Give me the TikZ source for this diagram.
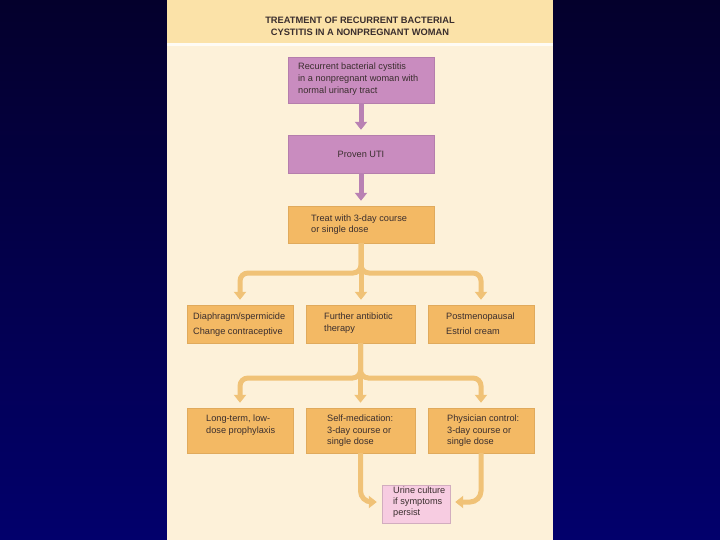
\documentclass[tikz,border=0pt]{standalone}
\usepackage{fontspec}
\setmainfont{Liberation Sans}
\usetikzlibrary{arrows.meta,calc}
\definecolor{bgtop}{HTML}{04002C}
\definecolor{bgbot}{HTML}{02006C}
\definecolor{panel}{HTML}{FDF1D9}
\definecolor{band}{HTML}{FBE2A8}
\definecolor{purp}{HTML}{C98CBF}
\definecolor{purpline}{HTML}{B981B3}
\definecolor{orng}{HTML}{F3B964}
\definecolor{orngline}{HTML}{F0C277}
\definecolor{pinkbox}{HTML}{F7CCE1}
\definecolor{txt}{HTML}{3A2E2E}
\tikzset{
  box/.style={inner sep=0pt, minimum width=#1},
  pbox/.style={box=146pt, fill=purp, draw=purp!90!black, line width=0.4pt},
  obox/.style={fill=orng, draw=orng!92!black, line width=0.4pt, inner sep=0pt},
  tx/.style={font=\fontsize{9.2}{11.8}\selectfont, text=txt, align=left, inner sep=0pt, anchor=north west},
  parrow/.style={draw=purpline, line width=5pt, -{Triangle[width=12pt,length=8pt]}, shorten >=5pt},
  oarrow/.style={draw=orngline, line width=5pt, -{Triangle[width=12pt,length=8pt]}, shorten >=5pt, rounded corners=8pt},
}
\begin{document}
\begin{tikzpicture}[x=1pt,y=-1pt]
\useasboundingbox (0,0) rectangle (720,540);
\shade[top color=bgtop, bottom color=bgbot] (0,0) rectangle (720,540);
\fill[panel] (167,0) rectangle (553,540);
\fill[band] (167,0) rectangle (553,43);
\fill[white!70!panel] (167,43) rectangle (553,46);
\node[font=\bfseries\fontsize{9.3}{11.5}\selectfont, text=txt, align=center, inner sep=0pt] (title) at (360,26.5)
  {TREATMENT OF RECURRENT BACTERIAL\\CYSTITIS IN A NONPREGNANT WOMAN};

% boxes
\node[pbox, minimum height=46pt] (b1) at (361,80) {};
\node[pbox, minimum height=38pt, font=\fontsize{9.2}{11}\selectfont, text=txt] (b2) at (361,154) {Proven UTI};
\node[obox, minimum width=146pt, minimum height=37pt] (b3) at (361,224.5) {};

\node[obox, minimum width=106pt, minimum height=38pt] (rA) at (240,324) {};
\node[obox, minimum width=109pt, minimum height=38pt] (rB) at (360.5,324) {};
\node[obox, minimum width=106pt, minimum height=38pt] (rC) at (481,324) {};

\node[obox, minimum width=106pt, minimum height=45pt] (sA) at (240,430.5) {};
\node[obox, minimum width=109pt, minimum height=45pt] (sB) at (360.5,430.5) {};
\node[obox, minimum width=106pt, minimum height=45pt] (sC) at (481,430.5) {};

\node[fill=pinkbox, draw=pinkbox!85!black, line width=0.4pt, minimum width=68pt, minimum height=38pt, inner sep=0pt] (pk) at (416,504) {};

% texts
\node[tx] (t1) at (298,63) {Recurrent bacterial cystitis\\in a nonpregnant woman with\\normal urinary tract};
\node[tx, font=\fontsize{9.2}{11.5}\selectfont] (t3) at (311,214.5) {Treat with 3-day course\\or single dose};
\node[tx, font=\fontsize{9.2}{15}\selectfont] (tA) at (193,312.5) {Diaphragm/spermicide\\Change contraceptive};
\node[tx, font=\fontsize{9.2}{11.5}\selectfont] (tB) at (324,313) {Further antibiotic\\therapy};
\node[tx, font=\fontsize{9.2}{15}\selectfont] (tC) at (446,312.5) {Postmenopausal\\Estriol cream};
\node[tx] (uA) at (206,414.5) {Long-term, low-\\dose prophylaxis};
\node[tx] (uB) at (327,414.5) {Self-medication:\\3-day course or\\single dose};
\node[tx] (uC) at (447,414.5) {Physician control:\\3-day course or\\single dose};
\node[tx, font=\fontsize{9.2}{11}\selectfont] (tp) at (393,486.5) {Urine culture\\if symptoms\\persist};

% connectors
\coordinate (j1) at (361,273);
\coordinate (j2) at (360.5,378);
\draw[parrow] (b1) -- (b2);
\draw[parrow] (b2) -- (b3);
\draw[oarrow] (b3.south) -- (rB.north -| b3.south);
\draw[oarrow] (b3.south) -- (j1) -| (rA.north);
\draw[oarrow] (b3.south) -- (j1) -| (rC.north);
\draw[oarrow] (rB.south) -- (sB.north);
\draw[oarrow] (rB.south) -- (j2) -| (sA.north);
\draw[oarrow] (rB.south) -- (j2) -| (sC.north);
\draw[oarrow, rounded corners=11pt] (sB.south) |- ([yshift=2pt]pk.west);
\draw[oarrow, rounded corners=11pt] (sC.south) |- ([yshift=2pt]pk.east);
\end{tikzpicture}
\end{document}
